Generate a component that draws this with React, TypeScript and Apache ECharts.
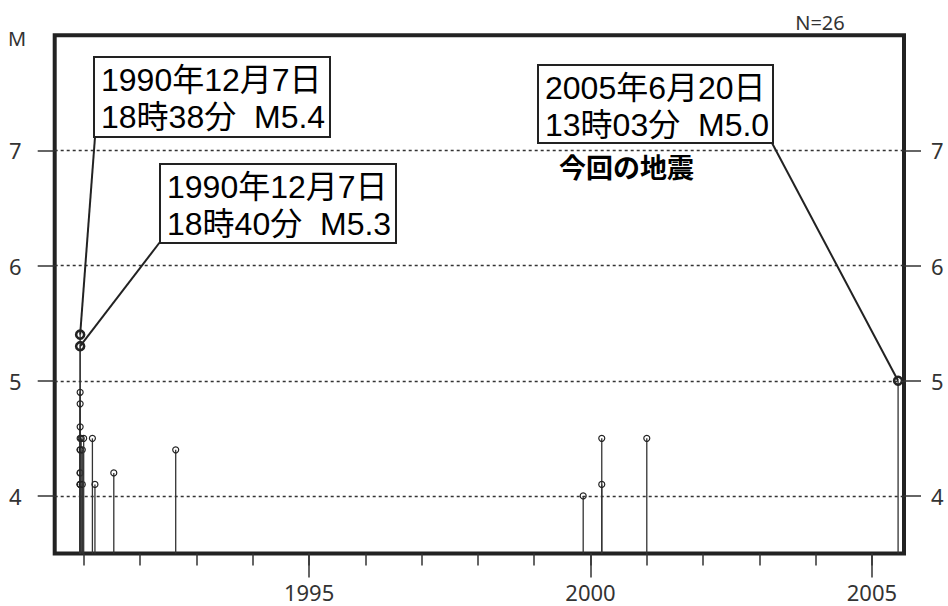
import React, { useEffect, useRef } from "react";
import * as echarts from "echarts";

// Event times (decimal years) and magnitudes, N = 26
const eventYears = [
  1990.932, 1990.932, 1990.932, 1990.932, 1990.932, 1990.932, 1990.932, 1990.932,
  1990.932, 1990.932, 1990.932, 1990.932, 1990.932, 1990.95,
  1990.97, 1990.97, 1990.995, 1991.15, 1991.195, 1991.53, 1992.63,
  1999.87, 2000.2, 2000.2, 2001.0,
  2005.465,
];
const eventMags = [
  5.4, 5.3, 4.9, 4.8, 4.6, 4.5, 4.4, 4.4,
  4.2, 4.2, 4.1, 4.1, 4.1, 4.5,
  4.4, 4.1, 4.5, 4.5, 4.1, 4.2, 4.4,
  4.0, 4.5, 4.1, 4.5,
  5.0,
];
const eventHighlight = [
  1, 1, 0, 0, 0, 0, 0, 0,
  0, 0, 0, 0, 0, 0,
  0, 0, 0, 0, 0, 0, 0,
  0, 0, 0, 0,
  1,
];

const minorTickYears = [1991, 1992, 1993, 1994, 1995, 1996, 1997, 1998, 1999, 2000, 2001, 2002, 2003, 2004, 2005];
const majorTickYears = [1995, 2000, 2005];
const magTicks = [4, 5, 6, 7];

const annotationLines = [
  ["1990年12月7日", "18時38分  M5.4"],
  ["1990年12月7日", "18時40分  M5.3"],
  ["2005年6月20日", "13時03分  M5.0"],
];
const annotationTargets = [
  [1990.932, 5.4],
  [1990.932, 5.3],
  [2005.465, 5.0],
];
const currentLabel = "今回の地震";
const countLabel = "N=26";
const yName = "M";

const X_MIN = 1990.48;
const X_MAX = 2005.57;
const Y_MIN = 3.5;
const Y_MAX = 8.0;

export default function App() {
  const ref = useRef<HTMLDivElement>(null);

  useEffect(() => {
    if (!ref.current) return;
    const chart = echarts.init(ref.current, null, { renderer: "svg" });

    const data = eventYears.map((y, i) => [y, eventMags[i], eventHighlight[i]]);
    const tickColor = "#333";
    const labelFont = { fontSize: 22, color: "#333", fontFamily: "Noto Sans" };

    const boxes = [
      { x: 94, y: 57, w: 236, h: 80, anchor: [95, 137] },
      { x: 160, y: 164, w: 236, h: 79, anchor: [160, 242] },
      { x: 538, y: 65, w: 235, h: 78, anchor: [772, 143] },
    ];

    const graphics: any[] = [];
    boxes.forEach((b, i) => {
      graphics.push({
        type: "rect",
        z: 100,
        shape: { x: b.x, y: b.y, width: b.w, height: b.h },
        style: { fill: "#fff", stroke: "#222", lineWidth: 2 },
      });
      annotationLines[i].forEach((line, j) => {
        graphics.push({
          type: "text",
          z: 101,
          x: b.x + 7,
          y: b.y + 23 + j * 37,
          style: {
            text: line,
            fontSize: 32,
            fontFamily: '"Liberation Sans", "Noto Sans CJK JP"',
            fill: "#000",
            verticalAlign: "middle",
            align: "left",
          },
        });
      });
    });
    graphics.push({
      type: "text",
      z: 101,
      x: 559,
      y: 166,
      style: {
        text: currentLabel,
        fontSize: 27,
        fontWeight: "bold",
        fontFamily: "Noto Sans CJK JP",
        fill: "#000",
        verticalAlign: "middle",
      },
    });
    graphics.push({
      type: "text",
      x: 17,
      y: 38,
      style: { text: yName, fontSize: 20, fontFamily: "Noto Sans", fill: "#333", align: "center", verticalAlign: "middle" },
    });
    graphics.push({
      type: "text",
      x: 820,
      y: 22,
      style: { text: countLabel, fontSize: 20, fontFamily: "Noto Sans", fill: "#333", align: "center", verticalAlign: "middle" },
    });

    const axisCommon = {
      type: "value" as const,
      axisLine: { show: false },
      splitLine: { show: false },
    };
    const plain = (v: number) => String(v);

    chart.setOption({
      animation: false,
      grid: {
        left: 54.7,
        top: 35.3,
        width: 849.3,
        height: 518.2,
        show: true,
        borderColor: "#222",
        borderWidth: 4,
        backgroundColor: "transparent",
        containLabel: false,
      },
      xAxis: [
        {
          ...axisCommon,
          min: X_MIN,
          max: X_MAX,
          position: "bottom",
          axisTick: { show: true, customValues: minorTickYears, length: 12, lineStyle: { color: tickColor, width: 1.5 } },
          axisLabel: { show: false },
        },
        {
          ...axisCommon,
          min: X_MIN,
          max: X_MAX,
          position: "bottom",
          axisTick: { show: true, customValues: majorTickYears, length: 24, lineStyle: { color: tickColor, width: 1.5 } },
          axisLabel: { show: true, customValues: majorTickYears, margin: 27, formatter: plain, ...labelFont },
        },
      ],
      yAxis: [
        {
          ...axisCommon,
          min: Y_MIN,
          max: Y_MAX,
          position: "left",
          axisTick: { show: true, customValues: magTicks, length: 17, lineStyle: { color: tickColor, width: 1.5 } },
          axisLabel: { show: true, customValues: magTicks, margin: 33, formatter: plain, ...labelFont },
        },
        {
          ...axisCommon,
          min: Y_MIN,
          max: Y_MAX,
          position: "right",
          axisTick: { show: true, customValues: magTicks, length: 17, lineStyle: { color: tickColor, width: 1.5 } },
          axisLabel: { show: true, customValues: magTicks, margin: 27, formatter: plain, ...labelFont },
        },
      ],
      series: [
        {
          type: "line",
          data: [],
          xAxisIndex: 0,
          yAxisIndex: 0,
          silent: true,
          markLine: {
            silent: true,
            symbol: "none",
            label: { show: false },
            lineStyle: { color: "#333", width: 1.3, type: [3, 3] },
            data: magTicks.map((v) => ({ yAxis: v })),
          },
        },
        {
          type: "custom",
          xAxisIndex: 0,
          yAxisIndex: 0,
          data,
          clip: false,
          renderItem: (params: any, api: any) => {
            const x = api.value(0);
            const m = api.value(1);
            const hl = api.value(2);
            const top = api.coord([x, m]);
            const bot = api.coord([x, Y_MIN]);
            return {
              type: "group",
              children: [
                {
                  type: "line",
                  shape: { x1: top[0], y1: top[1], x2: bot[0], y2: bot[1] },
                  style: { stroke: "#333", lineWidth: 1.3 },
                },
                {
                  type: "circle",
                  shape: { cx: top[0], cy: top[1], r: hl ? 4 : 3 },
                  style: { fill: "none", stroke: "#222", lineWidth: hl ? 2.6 : 1.2 },
                },
              ],
            };
          },
        },
        {
          type: "line",
          data: [],
          xAxisIndex: 0,
          yAxisIndex: 0,
          silent: true,
          markLine: {
            silent: true,
            symbol: "none",
            label: { show: false },
            lineStyle: { color: "#222", width: 2, type: "solid" },
            data: annotationTargets.map((t, i) => [
              { coord: t },
              { x: boxes[i].anchor[0], y: boxes[i].anchor[1] },
            ]),
          },
        },
      ],
      graphic: graphics,
    });

    return () => chart.dispose();
  }, []);

  return (
    <div
      ref={ref}
      style={{ position: "absolute", left: 0, top: 0, width: 948, height: 606, background: "#fff" }}
    />
  );
}
